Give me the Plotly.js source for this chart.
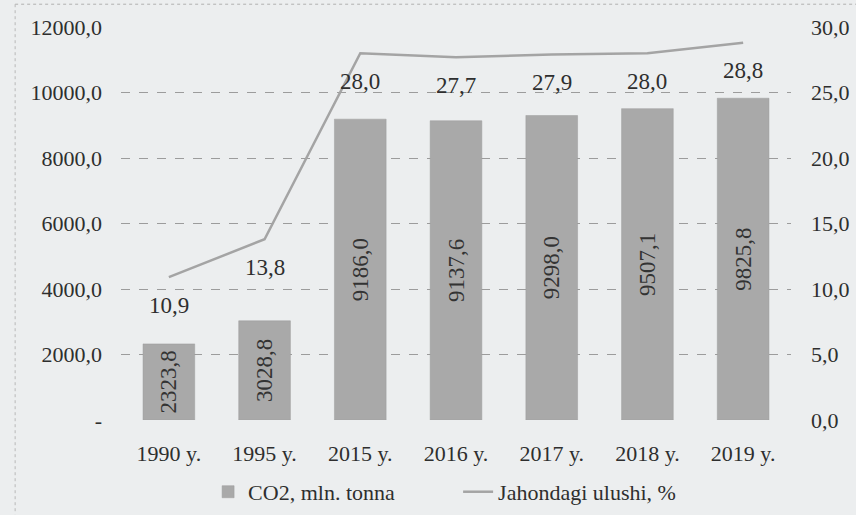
<!DOCTYPE html>
<html>
<head>
<meta charset="utf-8">
<script src="https://cdn.plot.ly/plotly-3.0.1.min.js"></script>
<style>html,body{margin:0;padding:0;background:#eceeef;}</style>
</head>
<body>
<div id="chart" style="width:856px;height:515px;"></div>
<script>
const categories = ['1990 y.', '1995 y.', '2015 y.', '2016 y.', '2017 y.', '2018 y.', '2019 y.'];
const co2Values = [2323.8, 3028.8, 9186.0, 9137.6, 9298.0, 9507.1, 9825.8];
const shareValues = [10.9, 13.8, 28.0, 27.7, 27.9, 28.0, 28.8];
const leftTickVals = [0, 2000, 4000, 6000, 8000, 10000, 12000];
const leftTickText = ['-', '2000,0', '4000,0', '6000,0', '8000,0', '10000,0', '12000,0'];
const rightTickVals = [0, 5, 10, 15, 20, 25, 30];
const seriesNames = ['CO2, mln. tonna', 'Jahondagi ulushi, %'];

const fmt = v => v.toFixed(1).replace('.', ',');
const serif = 'Liberation Serif';
const ink = '#2e2e2e';

const traces = [
  {
    type: 'bar',
    name: seriesNames[0],
    x: categories,
    y: co2Values,
    marker: {color: '#a9a9a9', line: {color: '#9c9c9c', width: 0.5}},
    text: co2Values.map(fmt),
    textposition: 'inside',
    insidetextanchor: 'middle',
    textangle: -90,
    textfont: {family: serif, size: 23, color: '#333'},
    constraintext: 'none',
    yaxis: 'y',
    hoverinfo: 'x+y'
  },
  {
    type: 'scatter',
    mode: 'lines',
    name: seriesNames[1],
    x: categories,
    y: shareValues,
    line: {color: '#a4a4a4', width: 2.5},
    yaxis: 'y2'
  }
];

const annotations = shareValues.map((v, i) => ({
  xref: 'x', yref: 'y2', x: categories[i], y: v,
  text: fmt(v), showarrow: false, yshift: -28,
  font: {family: serif, size: 23, color: ink}
}));

const layout = {
  width: 856, height: 515,
  margin: {l: 121, r: 65, t: 27, b: 95, autoexpand: false},
  paper_bgcolor: '#eceeef',
  plot_bgcolor: '#eceeef',
  separators: ',.',
  font: {family: serif, size: 22, color: ink},
  bargap: 0.46,
  showlegend: true,
  legend: {
    orientation: 'h', x: 0.13, xanchor: 'left', y: -0.183, yanchor: 'middle',
    font: {family: serif, size: 22, color: ink},
    bgcolor: 'rgba(0,0,0,0)', itemwidth: 30, tracegroupgap: 0,
    entrywidth: 205, entrywidthmode: 'pixels'
  },
  xaxis: {
    type: 'category',
    showgrid: false, zeroline: false, showline: false,
    ticks: '', ticklabelstandoff: 18,
    tickfont: {family: serif, size: 22, color: ink}
  },
  yaxis: {
    range: [0, 12000],
    tickvals: leftTickVals, ticktext: leftTickText,
    showgrid: true, gridcolor: '#9c9c9c', griddash: 'dash', gridwidth: 1,
    zeroline: false, showline: false, ticks: '',
    ticklabelstandoff: 18,
    tickfont: {family: serif, size: 22, color: ink}
  },
  yaxis2: {
    overlaying: 'y', side: 'right',
    range: [0, 30],
    tickvals: rightTickVals, tickformat: '.1f',
    showgrid: false, zeroline: false, showline: false, ticks: '',
    ticklabelstandoff: 19,
    tickfont: {family: serif, size: 22, color: ink}
  },
  annotations: annotations,
  shapes: [
    {type: 'line', xref: 'paper', yref: 'paper', x0: -0.158, x1: 1.1, y0: 1.058, y1: 1.058,
     line: {color: '#b0b0b0', width: 1, dash: 'dot'}},
    {type: 'line', xref: 'paper', yref: 'paper', x0: -0.158, x1: -0.158, y0: 1.058, y1: -0.24,
     line: {color: '#b8b8b8', width: 1, dash: 'dot'}}
  ]
};

Plotly.newPlot('chart', traces, layout, {displayModeBar: false, staticPlot: true});
</script>
</body>
</html>
